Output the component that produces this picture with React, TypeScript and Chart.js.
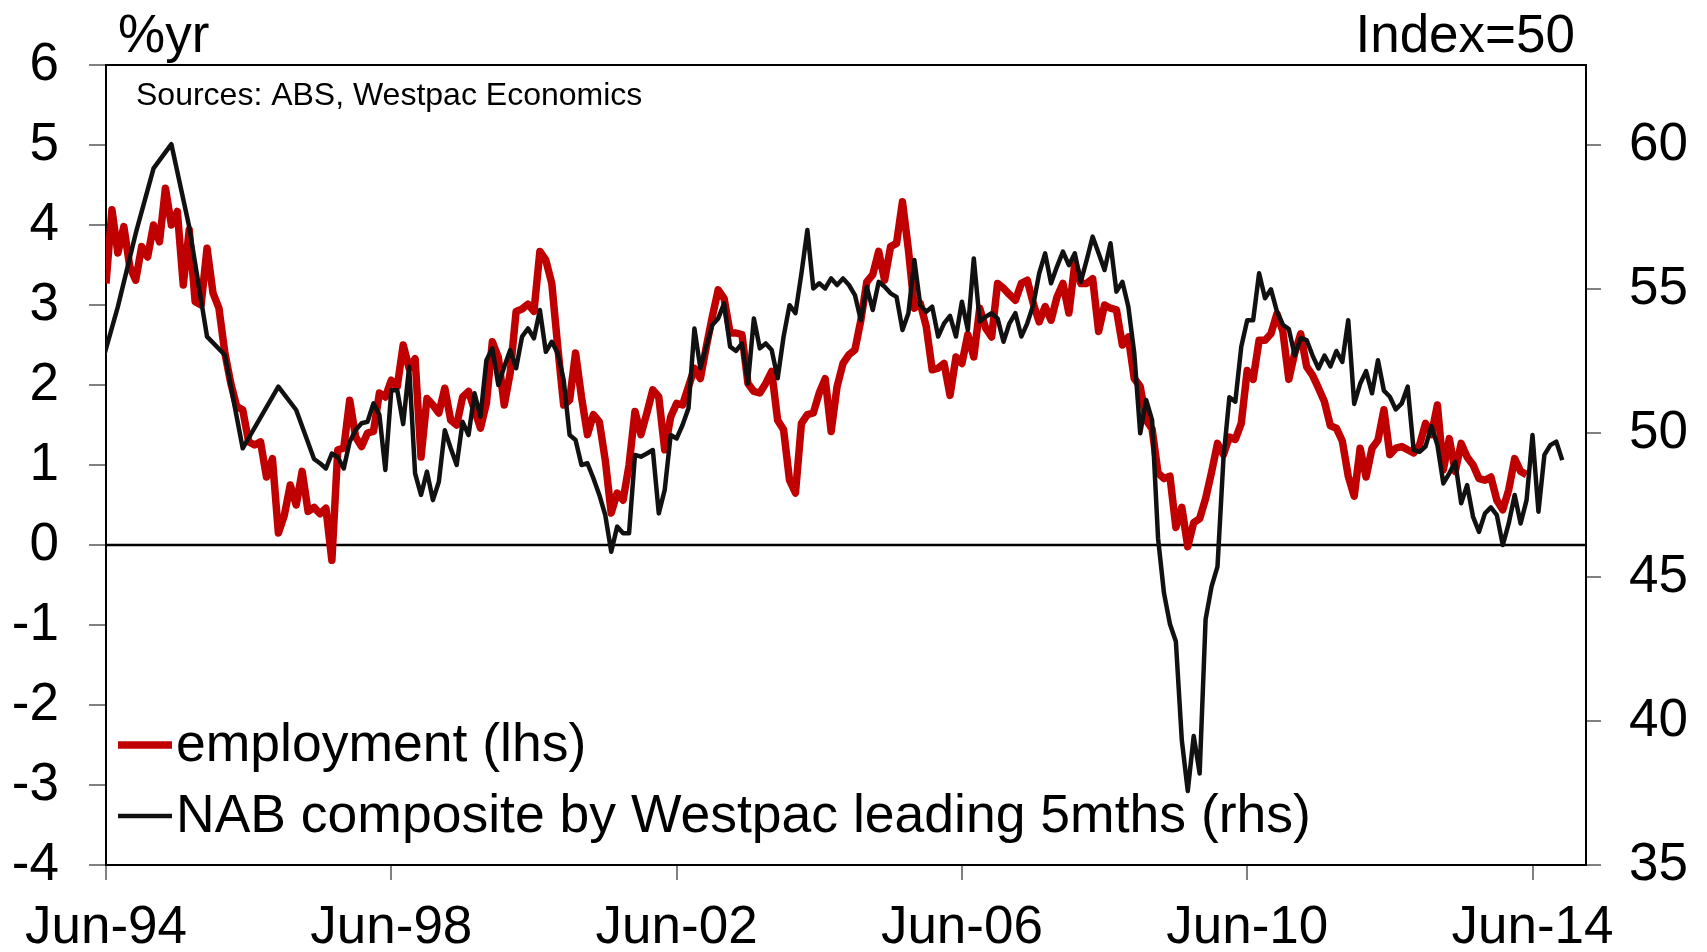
import { useEffect, useRef } from 'react';
import { Chart, registerables } from 'chart.js';

Chart.register(...registerables);

const FONT = '"Liberation Sans", Arial, Helvetica, sans-serif';

// x positions are months counted from Jun-94 (= 0)
const xTickMonths = [0, 48, 96, 144, 192, 240];
const xTickLabels = ['Jun-94', 'Jun-98', 'Jun-02', 'Jun-06', 'Jun-10', 'Jun-14'];
const rhsTicks = [35, 40, 45, 50, 55, 60];

const employmentLabel = 'employment (lhs)';
const nabLabel = 'NAB composite by Westpac leading 5mths (rhs)';
const leftUnit = '%yr';
const rightUnit = 'Index=50';
const sourceNote = 'Sources: ABS, Westpac Economics';

// employment, %yr, monthly from Jun-94
const employmentStartMonth = 0;
const employment = [
  3.27, 4.19, 3.65, 3.98, 3.48, 3.31, 3.73, 3.60, 4.00, 3.79, 4.46, 4.00,
  4.17, 3.25, 3.94, 3.04, 3.00, 3.71, 3.15, 2.96, 2.40, 2.02, 1.73, 1.69,
  1.29, 1.25, 1.29, 0.85, 1.08, 0.15, 0.37, 0.75, 0.50, 0.92, 0.42, 0.47,
  0.39, 0.46, -0.19, 1.19, 1.21, 1.81, 1.35, 1.23, 1.40, 1.42, 1.90, 1.85,
  2.06, 1.98, 2.50, 2.21, 2.33, 1.10, 1.83, 1.75, 1.65, 1.96, 1.56, 1.50,
  1.85, 1.92, 1.69, 1.46, 1.77, 2.54, 2.35, 1.75, 2.15, 2.92, 2.95, 3.01,
  2.92, 3.67, 3.56, 3.27, 2.48, 1.75, 1.81, 2.40, 1.85, 1.38, 1.63, 1.54,
  1.06, 0.40, 0.65, 0.56, 1.00, 1.67, 1.38, 1.65, 1.94, 1.85, 1.19, 1.60,
  1.77, 1.75, 1.98, 2.21, 2.08, 2.48, 2.85, 3.19, 3.08, 2.65, 2.65, 2.63,
  2.02, 1.92, 1.90, 2.02, 2.17, 1.56, 1.44, 0.81, 0.65, 1.52, 1.63, 1.65,
  1.90, 2.08, 1.42, 1.98, 2.27, 2.38, 2.44, 2.81, 3.29, 3.38, 3.67, 3.31,
  3.73, 3.77, 4.29, 3.69, 2.96, 3.02, 2.73, 2.19, 2.21, 2.27, 1.87, 2.35,
  2.27, 2.63, 2.35, 2.96, 2.71, 2.60, 3.27, 3.21, 3.13, 3.06, 3.27, 3.31,
  3.02, 2.79, 2.98, 2.81, 3.10, 3.27, 2.90, 3.52, 3.27, 3.27, 3.33, 2.67,
  3.00, 2.96, 2.94, 2.50, 2.60, 2.08, 1.98, 1.56, 1.45, 0.90, 0.83, 0.86,
  0.22, 0.47, -0.02, 0.28, 0.33, 0.58, 0.91, 1.27, 1.13, 1.35, 1.32, 1.52,
  2.18, 2.07, 2.56, 2.56, 2.64, 2.89, 2.67, 2.07, 2.40, 2.64, 2.23, 2.12,
  1.96, 1.79, 1.49, 1.46, 1.30, 0.86, 0.61, 1.21, 0.85, 1.21, 1.31, 1.69,
  1.13, 1.21, 1.23, 1.19, 1.15, 1.25, 1.52, 1.38, 1.75, 0.94, 1.33, 0.92,
  1.27, 1.10, 1.00, 0.83, 0.81, 0.85, 0.56, 0.44, 0.69, 1.08, 0.92, 0.88,
];

// NAB composite index, starting May-94 (= -1); quarterly until mid-1997, then monthly
const nabStartMonth = -1;
const nab = [
  52.2, null, null, 54.39, null, null, 56.93, null, null, 59.19, null, null,
  60.03, null, null, 57.16, null, null, 53.35, null, null, 52.71, null, null,
  49.47, null, null, null, null, null, 51.61, null, null, 50.80, null, null,
  49.10, 48.95, 48.77, 49.29, 49.16, 48.77, 49.70, 50.10, 50.34, 50.39, 51.03, 50.63,
  48.72, 51.49, 51.49, 50.31, 52.30, 48.60, 47.85, 48.66, 47.67, 48.31, 50.10, 49.47,
  48.89, 50.39, 49.93, 51.38, 50.57, 52.53, 52.94, 51.67, 52.30, 52.88, 52.25, 53.35,
  53.63, 53.29, 54.27, 52.82, 53.17, 52.77, 51.84, 49.93, 49.76, 48.89, 48.95, 48.43,
  47.85, 47.15, 45.88, 46.75, 46.52, 46.52, 49.24, 49.18, 49.29, 49.41, 47.21, 48.02,
  49.93, 49.81, 50.28, 50.86, 53.63, 52.25, 53.00, 53.75, 53.98, 54.50, 53.00, 52.85,
  53.11, 51.72, 53.98, 52.94, 53.11, 52.88, 51.90, 53.35, 54.44, 54.16, 55.54, 57.05,
  55.02, 55.20, 55.02, 55.37, 55.14, 55.37, 55.14, 54.79, 53.92, 55.08, 54.27, 55.25,
  55.08, 54.85, 54.73, 53.58, 54.16, 56.01, 54.44, 54.21, 54.39, 53.35, 53.81, 54.07,
  53.35, 54.56, 53.58, 56.06, 53.87, 54.04, 54.16, 53.98, 53.17, 53.81, 54.16, 53.35,
  53.81, 54.44, 55.54, 56.24, 55.20, 55.78, 56.30, 55.83, 56.24, 55.25, 56.01, 56.82,
  56.24, 55.66, 56.59, 54.91, 55.25, 54.39, 52.77, 49.99, 51.15, 50.45, 46.35, 44.44,
  43.37, 42.76, 39.33, 37.57, 39.48, 38.18, 43.53, 44.67, 45.36, 49.10, 51.24, 51.09,
  53.00, 53.92, 53.92, 55.55, 54.68, 54.99, 54.22, 53.76, 53.61, 52.69, 53.30, 53.23,
  52.69, 52.24, 52.69, 52.31, 52.85, 52.47, 53.92, 51.01, 51.71, 52.15, 51.38, 52.53,
  51.47, 51.26, 50.82, 51.03, 51.61, 49.41, 49.35, 49.53, 50.24, 49.58, 48.25, 48.60,
  49.00, 47.56, 48.19, 47.09, 46.57, 47.21, 47.42, 47.15, 46.11, 46.86, 47.85, 46.86,
  47.67, 49.93, 47.27, 49.24, 49.58, 49.70, 49.06,
];

const RED = 'rgb(192,0,0)';
const BLACK = '#111111';

const decorPlugin = {
  id: 'decor',
  beforeDatasetsDraw(chart: any) {
    const { ctx, chartArea } = chart;
    const y0 = chart.scales.y.getPixelForValue(0);
    ctx.save();
    ctx.strokeStyle = '#000';
    ctx.lineWidth = 2.5;
    ctx.beginPath();
    ctx.moveTo(chartArea.left, y0);
    ctx.lineTo(chartArea.right, y0);
    ctx.stroke();
    ctx.restore();
  },
  afterDraw(chart: any) {
    const { ctx, chartArea } = chart;
    ctx.save();
    // top frame
    ctx.strokeStyle = '#000';
    ctx.lineWidth = 2;
    ctx.beginPath();
    ctx.moveTo(chartArea.left - 1, chartArea.top);
    ctx.lineTo(chartArea.right + 1, chartArea.top);
    ctx.stroke();

    ctx.fillStyle = '#000';
    ctx.textBaseline = 'alphabetic';
    ctx.font = `53px ${FONT}`;
    ctx.textAlign = 'left';
    ctx.fillText(leftUnit, chartArea.left + 12, 52);
    ctx.textAlign = 'right';
    ctx.fillText(rightUnit, chartArea.right - 11, 52);

    ctx.font = `32px ${FONT}`;
    ctx.textAlign = 'left';
    ctx.fillText(sourceNote, chartArea.left + 30, 105);

    // legend
    const rows = [
      { ds: chart.data.datasets[0], y: 745 },
      { ds: chart.data.datasets[1], y: 816 },
    ];
    ctx.font = `53.5px ${FONT}`;
    for (const r of rows) {
      ctx.strokeStyle = r.ds.borderColor;
      ctx.lineWidth = r.ds.borderWidth;
      ctx.lineCap = 'butt';
      ctx.beginPath();
      ctx.moveTo(chartArea.left + 12, r.y);
      ctx.lineTo(chartArea.left + 66, r.y);
      ctx.stroke();
      ctx.fillStyle = '#000';
      ctx.textBaseline = 'middle';
      ctx.fillText(r.ds.label, chartArea.left + 70, r.y + 1);
    }
    ctx.restore();
  },
};

export default function App() {
  const ref = useRef<HTMLCanvasElement | null>(null);

  useEffect(() => {
    if (!ref.current) return;
    const empData = employment.map((v, i) => ({ x: employmentStartMonth + i, y: v }));
    const nabData = nab.map((v, i) => ({ x: nabStartMonth + i, y: v }));

    const chart = new Chart(ref.current, {
      type: 'line',
      data: {
        datasets: [
          {
            label: employmentLabel,
            data: empData,
            borderColor: RED,
            backgroundColor: RED,
            borderWidth: 7.5,
            pointRadius: 0,
            tension: 0,
            borderJoinStyle: 'round',
            yAxisID: 'y',
            order: 2,
          },
          {
            label: nabLabel,
            data: nabData as any,
            borderColor: BLACK,
            backgroundColor: BLACK,
            borderWidth: 4.5,
            pointRadius: 0,
            tension: 0,
            spanGaps: true,
            borderJoinStyle: 'round',
            yAxisID: 'y1',
            order: 1,
          },
        ],
      },
      options: {
        responsive: false,
        animation: false,
        devicePixelRatio: 1,
        layout: { padding: { top: 65, left: 0, right: 0, bottom: 0 } },
        plugins: { legend: { display: false }, tooltip: { enabled: false } },
        scales: {
          x: {
            type: 'linear',
            min: 0,
            max: 249,
            afterBuildTicks: (s: any) => {
              s.ticks = xTickMonths.map((v) => ({ value: v }));
            },
            afterFit: (s: any) => {
              s.height = 87;
            },
            ticks: {
              autoSkip: false,
              maxRotation: 0,
              color: '#000',
              padding: 17,
              font: { family: FONT, size: 53 },
              callback: (v: any) => {
                const i = xTickMonths.indexOf(Number(v));
                return i >= 0 ? xTickLabels[i] : '';
              },
            },
            grid: {
              display: true,
              drawOnChartArea: false,
              drawTicks: true,
              tickLength: 15,
              color: '#808080',
              lineWidth: 2,
            },
            border: { display: true, color: '#000', width: 2 },
          },
          y: {
            type: 'linear',
            position: 'left',
            min: -4,
            max: 6,
            afterFit: (s: any) => {
              s.width = 106;
            },
            ticks: {
              stepSize: 1,
              color: '#000',
              padding: 30,
              font: { family: FONT, size: 53 },
            },
            grid: {
              display: true,
              drawOnChartArea: false,
              drawTicks: true,
              tickLength: 17,
              color: '#808080',
              lineWidth: 2,
            },
            border: { display: true, color: '#000', width: 2 },
          },
          y1: {
            type: 'linear',
            position: 'right',
            min: 35,
            max: 62.78,
            afterBuildTicks: (s: any) => {
              s.ticks = rhsTicks.map((v) => ({ value: v }));
            },
            afterFit: (s: any) => {
              s.width = 121;
            },
            ticks: {
              color: '#000',
              padding: 28,
              font: { family: FONT, size: 53 },
            },
            grid: {
              display: true,
              drawOnChartArea: false,
              drawTicks: true,
              tickLength: 15,
              color: '#808080',
              lineWidth: 2,
            },
            border: { display: true, color: '#000', width: 2 },
          },
        },
      },
      plugins: [decorPlugin],
    } as any);

    return () => chart.destroy();
  }, []);

  return (
    <div style={{ position: 'fixed', left: 0, top: 0, width: 1707, height: 952, background: '#fff' }}>
      <canvas ref={ref} width={1707} height={952} style={{ width: 1707, height: 952, display: 'block' }} />
    </div>
  );
}
